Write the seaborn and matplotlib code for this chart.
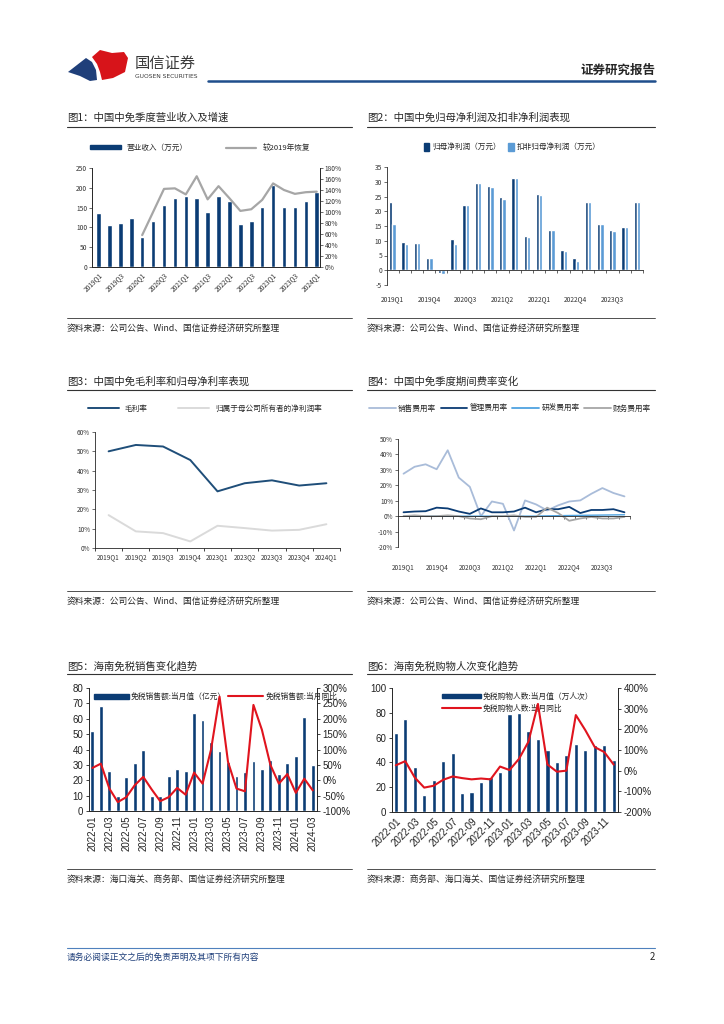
import numpy as np
import pandas as pd
import seaborn as sns
import matplotlib.pyplot as plt
from matplotlib.patches import Patch, Polygon
from matplotlib.lines import Line2D
from matplotlib.ticker import FuncFormatter

sns.set_theme(style="ticks")
plt.rcParams['font.family'] = ['Noto Sans CJK SC', 'DejaVu Sans']
plt.rcParams['axes.unicode_minus'] = False
plt.rcParams['axes.linewidth'] = 0.6

NAVY = "#0B3C74"
LIGHT = "#5B9BD5"
GRAY = "#A6A6A6"
RED = "#E0141E"
PALE = "#DADADA"
STEEL = "#A9BCD9"
SKY = "#4FA3E0"

# ---- data ----
quarters = ["2019Q1", "2019Q2", "2019Q3", "2019Q4", "2020Q1", "2020Q2", "2020Q3", "2020Q4",
            "2021Q1", "2021Q2", "2021Q3", "2021Q4", "2022Q1", "2022Q2", "2022Q3", "2022Q4",
            "2023Q1", "2023Q2", "2023Q3", "2023Q4", "2024Q1"]
revenue = [136, 107, 111, 123, 76, 116, 157, 175, 180, 175, 140, 180, 167, 108, 116, 151,
           208, 151, 151, 167, 190]
recovery = [np.nan, np.nan, np.nan, np.nan, 58, 100, 142, 143, 132, 165, 123, 147, 125, 102,
            105, 122, 152, 140, 133, 136, 137]

net_profit = [23, 9.7, 9.3, 4.1, -1.0, 10.5, 22.2, 29.6, 28.5, 25, 31.2, 11.6, 25.7, 13.7,
              6.9, 4.1, 23, 15.8, 13.5, 14.8, 23]
net_profit_adj = [15.7, 9, 9.3, 4, -1.2, 9, 22, 29.5, 28.3, 24.3, 31.2, 11.4, 25.6, 13.6,
                  6.5, 3.1, 23, 15.7, 13.4, 14.5, 23]

margin_labels = ["2019Q1", "2019Q2", "2019Q3", "2019Q4", "2023Q1", "2023Q2", "2023Q3",
                 "2023Q4", "2024Q1"]
gross_margin = [50.0, 53.3, 52.5, 45.5, 29.3, 33.5, 35.0, 32.3, 33.5]
net_margin = [17.0, 8.6, 7.7, 3.4, 11.5, 10.3, 9.0, 9.4, 12.3]

sales_rate = [27.5, 32, 33.6, 30.4, 42.7, 25, 19, 0, 9.5, 8, -9.3, 10.2, 7.6, 3.7, 7, 9.5,
              10.2, 14.5, 18.2, 15, 12.8]
mgmt_rate = [2.5, 3, 3.2, 5.5, 5, 3, 1.5, 5, 2.5, 2.5, 3, 5.5, 2.5, 4.5, 4.5, 6, 2, 4, 4,
             4.5, 2.5]
rd_rate = [0, 0, 0, 0, 0, 0, 0, 0, 0, 0, 0, 0, 0, 0.2, 0.3, 0.4, 0.5, 0.6, 0.7, 0.8, 0.9]
fin_rate = [0, 0.5, 0, 0, 0.5, 0, -1.5, -2, 0, 0, 0.5, -0.5, -0.5, 5.5, 2, -3, -1.5, -0.5,
            -1.5, -1.5, -0.5]

months5 = ["2022-01", "2022-02", "2022-03", "2022-04", "2022-05", "2022-06", "2022-07",
           "2022-08", "2022-09", "2022-10", "2022-11", "2022-12", "2023-01", "2023-02",
           "2023-03", "2023-04", "2023-05", "2023-06", "2023-07", "2023-08", "2023-09",
           "2023-10", "2023-11", "2023-12", "2024-01", "2024-02", "2024-03"]
dutyfree_sales = [52, 68, 26, 10, 22, 31, 39.5, 9.5, 10, 23, 27.5, 26, 63.5, 59, 45, 39, 32,
                  23, 25.5, 32.5, 27, 33, 24, 31, 36, 61, 30]
dutyfree_yoy = [40, 54, -27, -71, -55, -16, 11, -30, -68, -55, -25, -47, 25, -11, 100, 272,
                60, -27, -36, 245, 164, 50, -11, 20, -41, 5, -33]

months6 = months5[:24]
shoppers = [63.5, 75, 36, 13.5, 25.7, 41, 47.3, 15, 16.2, 24.5, 28.4, 32, 79, 80, 65, 59,
            50, 40, 46, 54.6, 50, 54, 54, 42]
shoppers_yoy = [26, 46, -33, -82, -73, -44, -28, -36, -42, -38, -42, 20, 3, 57, 140, 323,
                30, -5, 0, 269, 196, 114, 90, 29]

W, H = 724, 1024
fig = plt.figure(figsize=(7.24, 10.24), dpi=100)


def rect(l, t, r, b):
    return [l / W, 1 - b / H, (r - l) / W, (b - t) / H]


def fpt(x, y):
    return (x / W, 1 - y / H)


pct = FuncFormatter(lambda v, p: f"{v:.0f}%")

# ---- overlay: header, titles, sources, footer ----
ov = fig.add_axes([0, 0, 1, 1])
ov.set_xlim(0, W)
ov.set_ylim(H, 0)
ov.axis('off')
ov.add_patch(Polygon([(68, 72), (86, 58), (92, 62), (96, 70), (97, 80), (90, 81), (80, 76)],
                     closed=True, color="#1F3F7A", lw=0))
ov.add_patch(Polygon([(92, 57), (100, 50), (112, 53), (124, 52), (128, 58), (125, 72),
                      (113, 78), (102, 80), (100, 72), (97, 64)], closed=True, color="#D7141A", lw=0))
ov.text(135, 63, "国信证券", fontsize=11, color="#3A3A3A", va='center')
ov.text(135, 76, "GUOSEN SECURITIES", fontsize=4.3, color="#3A3A3A", va='center',
        family=['DejaVu Sans'])
ov.text(655, 70, "证券研究报告", fontsize=9, fontweight='bold', ha='right', va='center')
ov.plot([208, 655], [81, 81], color="#1F4E8C", lw=1.8)

titles = {(67, 118): "图1：中国中免季度营业收入及增速",
          (367, 118): "图2：中国中免归母净利润及扣非净利润表现",
          (67, 382): "图3：中国中免毛利率和归母净利率表现",
          (367, 382): "图4：中国中免季度期间费率变化",
          (67, 666): "图5：海南免税销售变化趋势",
          (367, 666): "图6：海南免税购物人次变化趋势"}
for (x, y), t in titles.items():
    ov.text(x, y, t, fontsize=7.5, va='center')
for y in [127, 390, 674]:
    ov.plot([67, 352], [y, y], color="#333333", lw=0.8)
    ov.plot([367, 655], [y, y], color="#333333", lw=0.8)

sources = {(67, 328): "资料来源：公司公告、Wind、国信证券经济研究所整理",
           (367, 328): "资料来源：公司公告、Wind、国信证券经济研究所整理",
           (67, 601): "资料来源：公司公告、Wind、国信证券经济研究所整理",
           (367, 601): "资料来源：公司公告、Wind、国信证券经济研究所整理",
           (67, 879): "资料来源：海口海关、商务部、国信证券经济研究所整理",
           (367, 879): "资料来源：商务部、海口海关、国信证券经济研究所整理"}
for (x, y), t in sources.items():
    ov.text(x, y, t, fontsize=6.3, va='center')
for y in [318, 591, 869]:
    ov.plot([67, 352], [y, y], color="#333333", lw=0.6)
    ov.plot([367, 655], [y, y], color="#333333", lw=0.6)

ov.plot([67, 655], [948, 948], color="#4F81BD", lw=0.8)
ov.text(67, 957, "请务必阅读正文之后的免责声明及其项下所有内容", fontsize=6.3,
        color="#1F3F7A", style='italic', va='center')
ov.text(655, 957, "2", fontsize=7, ha='right', va='center')


def small_ticks(ax, size=4.8):
    ax.tick_params(labelsize=size, length=2, width=0.5, pad=1.5, colors="#333333")
    ax.set_facecolor('none')


# ---- fig 1 ----
idx = np.arange(len(quarters))
ax1 = fig.add_axes(rect(92, 168, 320, 267))
sns.barplot(x=idx, y=revenue, color=NAVY, width=0.42, saturation=1, ax=ax1)
ax1b = ax1.twinx()
sns.lineplot(x=idx, y=recovery, color=GRAY, lw=1.6, ax=ax1b)
ax1.set_xlim(-0.6, 20.3)
ax1.set_ylim(0, 250)
ax1.set_yticks(range(0, 251, 50))
ax1b.set_ylim(0, 180)
ax1b.set_yticks(range(0, 181, 20))
ax1b.yaxis.set_major_formatter(pct)
ax1.set_xticks(idx[::2])
ax1.set_xticklabels(quarters[::2], rotation=45, ha='right', rotation_mode='anchor')
for a in (ax1, ax1b):
    small_ticks(a)
    a.spines['top'].set_visible(False)
ax1.tick_params(axis='x', length=0, pad=3)
fig.legend(handles=[Patch(color=NAVY), Line2D([], [], color=GRAY, lw=1.6)],
           labels=["营业收入（万元）", "较2019年恢复"], loc='center', ncol=2,
           bbox_to_anchor=fpt(200, 148), frameon=False, fontsize=5.5,
           handlelength=4, handleheight=0.5, columnspacing=5)

# ---- fig 2 ----
df2 = pd.DataFrame({"q": np.concatenate([idx, idx]),
                    "v": net_profit + net_profit_adj,
                    "s": ["归母净利润（万元）"] * len(idx) + ["扣非归母净利润（万元）"] * len(idx)})
ax2 = fig.add_axes(rect(387, 167, 643, 285))
sns.barplot(data=df2, x="q", y="v", hue="s", palette=[NAVY, LIGHT], width=0.55,
            saturation=1, legend=False, ax=ax2)
ax2.set_xlim(-0.45, 20.5)
ax2.set_ylim(-5, 35)
ax2.set_yticks(range(-5, 36, 5))
ax2.set_xlabel("")
ax2.set_ylabel("")
ax2.spines[['top', 'right']].set_visible(False)
ax2.spines['bottom'].set_position(('data', 0))
ax2.set_xticks(idx[::3])
ax2.set_xticklabels(quarters[::3])
ax2.set_xticks(idx + 0.5, minor=True)
small_ticks(ax2)
ax2.tick_params(axis='x', which='major', length=0, pad=18)
ax2.tick_params(axis='x', which='minor', length=2, width=0.5)
fig.legend(handles=[Patch(color=NAVY), Patch(color=LIGHT)],
           labels=["归母净利润（万元）", "扣非归母净利润（万元）"], loc='center', ncol=2,
           bbox_to_anchor=fpt(512, 147), frameon=False, fontsize=5.5,
           handlelength=0.7, handleheight=1.2, columnspacing=1, handletextpad=0.4)

# ---- fig 3 ----
idx3 = np.arange(len(margin_labels))
ax3 = fig.add_axes(rect(95, 432, 340, 548))
sns.lineplot(x=idx3, y=gross_margin, color="#1F4E79", lw=1.4, ax=ax3)
sns.lineplot(x=idx3, y=net_margin, color=PALE, lw=1.4, ax=ax3)
ax3.set_xlim(-0.5, 8.5)
ax3.set_ylim(0, 60)
ax3.set_yticks(range(0, 61, 10))
ax3.yaxis.set_major_formatter(pct)
ax3.set_xticks(idx3)
ax3.set_xticklabels(margin_labels)
ax3.set_xticks(np.arange(-0.5, 9, 1), minor=True)
ax3.spines[['top', 'right']].set_visible(False)
small_ticks(ax3, 4.6)
ax3.tick_params(axis='x', which='major', length=0, pad=4)
ax3.tick_params(axis='x', which='minor', length=2.5, width=0.6)
fig.legend(handles=[Line2D([], [], color="#1F4E79", lw=1.4), Line2D([], [], color=PALE, lw=1.4)],
           labels=["毛利率", "归属于母公司所有者的净利润率"], loc='center', ncol=2,
           bbox_to_anchor=fpt(205, 409), frameon=False, fontsize=5.5,
           handlelength=4, columnspacing=4)

# ---- fig 4 ----
ax4 = fig.add_axes(rect(398, 439, 630, 547))
sns.lineplot(x=idx, y=sales_rate, color=STEEL, lw=1.3, ax=ax4)
sns.lineplot(x=idx, y=mgmt_rate, color=NAVY, lw=1.3, ax=ax4)
sns.lineplot(x=idx, y=rd_rate, color=SKY, lw=1.0, ax=ax4)
sns.lineplot(x=idx, y=fin_rate, color=GRAY, lw=1.3, ax=ax4)
ax4.set_xlim(-0.5, 20.5)
ax4.set_ylim(-20, 50)
ax4.set_yticks(range(-20, 51, 10))
ax4.yaxis.set_major_formatter(pct)
ax4.spines[['top', 'right']].set_visible(False)
ax4.spines['bottom'].set_position(('data', 0))
ax4.set_xticks(idx[::3])
ax4.set_xticklabels(quarters[::3])
ax4.set_xticks(idx + 0.5, minor=True)
small_ticks(ax4, 4.6)
ax4.tick_params(axis='x', which='major', length=0, pad=34)
ax4.tick_params(axis='x', which='minor', length=2, width=0.5)
fig.legend(handles=[Line2D([], [], color=c, lw=1.3) for c in (STEEL, NAVY, SKY, GRAY)],
           labels=["销售费用率", "管理费用率", "研发费用率", "财务费用率"], loc='center', ncol=4,
           bbox_to_anchor=fpt(510, 409), frameon=False, fontsize=5.5,
           handlelength=3.5, columnspacing=0.6, handletextpad=0.3)


def big_ticks(ax):
    ax.tick_params(labelsize=7, length=2.5, width=0.6, pad=1.5, colors="#222222")
    for lab in ax.get_xticklabels() + ax.get_yticklabels():
        lab.set_fontfamily(['Liberation Sans', 'DejaVu Sans'])
    ax.set_facecolor('none')


# ---- fig 5 ----
idx5 = np.arange(len(months5))
ax5 = fig.add_axes(rect(89, 688, 317, 811))
sns.barplot(x=idx5, y=dutyfree_sales, color=NAVY, width=0.45, saturation=1, ax=ax5)
ax5b = ax5.twinx()
sns.lineplot(x=idx5, y=dutyfree_yoy, color=RED, lw=1.5, ax=ax5b)
ax5.set_xlim(-0.4, 26.5)
ax5.set_ylim(0, 80)
ax5.set_yticks(range(0, 81, 10))
ax5b.set_ylim(-100, 300)
ax5b.set_yticks(range(-100, 301, 50))
ax5b.yaxis.set_major_formatter(pct)
ax5.set_xticks(idx5[::2])
ax5.set_xticklabels(months5[::2], rotation=90)
for a in (ax5, ax5b):
    a.spines['top'].set_visible(False)
    big_ticks(a)
ax5.tick_params(axis='x', length=0, pad=3)
ax5.legend(handles=[Patch(color=NAVY), Line2D([], [], color=RED, lw=1.5)],
           labels=["免税销售额:当月值（亿元）", "免税销售额:当月同比"], loc='upper left',
           bbox_to_anchor=(0.0, 1.0), ncol=2, frameon=False, fontsize=5.6,
           handlelength=4.5, handleheight=0.6, columnspacing=0.3, handletextpad=0.3,
           borderaxespad=0.2)

# ---- fig 6 ----
idx6 = np.arange(len(months6))
ax6 = fig.add_axes(rect(392, 688, 618, 812))
sns.barplot(x=idx6, y=shoppers, color=NAVY, width=0.45, saturation=1, ax=ax6)
ax6b = ax6.twinx()
sns.lineplot(x=idx6, y=shoppers_yoy, color=RED, lw=1.5, ax=ax6b)
ax6.set_xlim(-0.4, 23.45)
ax6.set_ylim(0, 100)
ax6.set_yticks(range(0, 101, 20))
ax6b.set_ylim(-200, 400)
ax6b.set_yticks(range(-200, 401, 100))
ax6b.yaxis.set_major_formatter(pct)
ax6.set_xticks(idx6[::2])
ax6.set_xticklabels(months6[::2], rotation=45, ha='right', rotation_mode='anchor')
for a in (ax6, ax6b):
    a.spines['top'].set_visible(False)
    big_ticks(a)
ax6.tick_params(axis='x', length=0, pad=3)
ax6.legend(handles=[Patch(color=NAVY), Line2D([], [], color=RED, lw=1.5)],
           labels=["免税购物人数:当月值（万人次）", "免税购物人数:当月同比"], loc='upper left',
           bbox_to_anchor=(0.2, 1.0), ncol=1, frameon=False, fontsize=5.6,
           handlelength=5, handleheight=0.6, handletextpad=0.3, labelspacing=0.5,
           borderaxespad=0.2)

fig.savefig("out.png", dpi=100)
